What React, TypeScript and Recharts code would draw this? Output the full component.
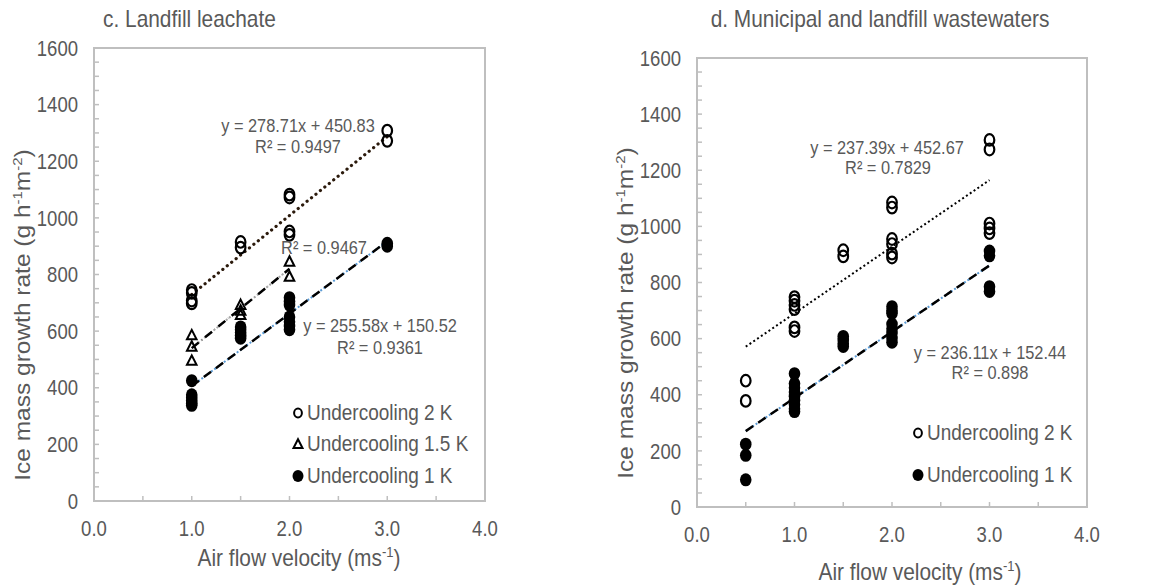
import React from 'react';
import {
  ScatterChart,
  Scatter,
  XAxis,
  YAxis,
  ReferenceArea,
  ReferenceDot,
  Legend,
  Customized,
} from 'recharts';

const FONT = '"Liberation Sans", Arial, Helvetica, sans-serif';
const GRAY = '#595959';
const FRAME = '#BFBFBF';
const SQ = 0.87; // horizontal squeeze of the original figure's lettering

// ---- axes ----
const xTicks = [0, 0.5, 1, 1.5, 2, 2.5, 3, 3.5, 4];
const yTicks = [
  0, 50, 100, 150, 200, 250, 300, 350, 400, 450, 500, 550, 600, 650, 700, 750, 800,
  850, 900, 950, 1000, 1050, 1100, 1150, 1200, 1250, 1300, 1350, 1400, 1450, 1500, 1550, 1600,
];

// ---- panel c: Landfill leachate ----
const c2K = [
  { x: 1, y: 745 }, { x: 1, y: 735 }, { x: 1, y: 708 }, { x: 1, y: 698 },
  { x: 1.5, y: 915 }, { x: 1.5, y: 895 },
  { x: 2, y: 1082 }, { x: 2, y: 1072 }, { x: 2, y: 952 }, { x: 2, y: 940 },
  { x: 3, y: 1308 }, { x: 3, y: 1272 },
];
const c15K = [
  { x: 1, y: 585 }, { x: 1, y: 545 }, { x: 1, y: 495 },
  { x: 1.5, y: 692 }, { x: 1.5, y: 672 }, { x: 1.5, y: 657 },
  { x: 2, y: 845 }, { x: 2, y: 792 },
];
const c1K = [
  { x: 1, y: 425 }, { x: 1, y: 375 }, { x: 1, y: 365 }, { x: 1, y: 355 }, { x: 1, y: 345 }, { x: 1, y: 338 },
  { x: 1.5, y: 615 }, { x: 1.5, y: 605 }, { x: 1.5, y: 595 }, { x: 1.5, y: 585 }, { x: 1.5, y: 575 },
  { x: 2, y: 718 }, { x: 2, y: 705 }, { x: 2, y: 692 }, { x: 2, y: 650 }, { x: 2, y: 633 }, { x: 2, y: 618 }, { x: 2, y: 605 },
  { x: 3, y: 910 }, { x: 3, y: 900 },
];
// fitted lines: slope, intercept, x-from, x-to
const cFit2K = [278.71, 450.83, 1, 3];
const cFit15K = [280, 260, 1, 2];
const cFit1K = [255.58, 150.52, 1, 3];

// ---- panel d: Municipal and landfill wastewaters ----
const d2K = [
  { x: 0.5, y: 450 }, { x: 0.5, y: 378 },
  { x: 1, y: 748 }, { x: 1, y: 735 }, { x: 1, y: 720 }, { x: 1, y: 705 }, { x: 1, y: 640 }, { x: 1, y: 627 },
  { x: 1.5, y: 915 }, { x: 1.5, y: 893 },
  { x: 2, y: 1085 }, { x: 2, y: 1067 }, { x: 2, y: 955 }, { x: 2, y: 937 }, { x: 2, y: 903 }, { x: 2, y: 889 },
  { x: 3, y: 1308 }, { x: 3, y: 1274 }, { x: 3, y: 1010 }, { x: 3, y: 993 }, { x: 3, y: 976 },
];
const d1K = [
  { x: 0.5, y: 224 }, { x: 0.5, y: 184 }, { x: 0.5, y: 97 },
  { x: 1, y: 475 }, { x: 1, y: 440 }, { x: 1, y: 425 }, { x: 1, y: 410 }, { x: 1, y: 395 }, { x: 1, y: 380 }, { x: 1, y: 365 }, { x: 1, y: 350 }, { x: 1, y: 340 },
  { x: 1.5, y: 608 }, { x: 1.5, y: 595 }, { x: 1.5, y: 582 }, { x: 1.5, y: 572 },
  { x: 2, y: 714 }, { x: 2, y: 700 }, { x: 2, y: 690 }, { x: 2, y: 652 }, { x: 2, y: 635 }, { x: 2, y: 620 }, { x: 2, y: 602 }, { x: 2, y: 587 },
  { x: 3, y: 912 }, { x: 3, y: 895 }, { x: 3, y: 785 }, { x: 3, y: 768 },
];
const dFit2K = [237.39, 452.67, 0.5, 3];
const dFit1K = [236.11, 152.44, 0.5, 3];

// text
const titleC = 'c. Landfill leachate';
const titleD = 'd. Municipal and landfill wastewaters';
const legendC = [
  { label: 'Undercooling 2 K', shape: 'open' },
  { label: 'Undercooling 1.5 K', shape: 'tri' },
  { label: 'Undercooling 1 K', shape: 'filled' },
];
const legendD = [
  { label: 'Undercooling 2 K', shape: 'open' },
  { label: 'Undercooling 1 K', shape: 'filled' },
];
const notesC = [
  { x: 2.087, y: 1328, text: 'y = 278.71x + 450.83' },
  { x: 2.087, y: 1254, text: 'R² = 0.9497' },
  { x: 2.353, y: 897, text: 'R² = 0.9467' },
  { x: 2.926, y: 622, text: 'y = 255.58x + 150.52' },
  { x: 2.926, y: 544, text: 'R² = 0.9361' },
];
const notesD = [
  { x: 1.949, y: 1283, text: 'y = 237.39x + 452.67' },
  { x: 1.959, y: 1212, text: 'R² = 0.7829' },
  { x: 3.005, y: 552, text: 'y = 236.11x + 152.44' },
  { x: 3.005, y: 481, text: 'R² = 0.898' },
];

const fitLine = (f: number[]) => [
  { x: f[2], y: f[0] * f[2] + f[1] },
  { x: f[3], y: f[0] * f[3] + f[1] },
];

// squeezed text helper
const SqText = ({ x, y, anchor = 'start', size, children }: any) => (
  <text
    transform={`translate(${x},${y}) scale(${SQ},1)`}
    x={0}
    y={0}
    dy="0.36em"
    textAnchor={anchor}
    fontSize={size}
    fontFamily={FONT}
    fill={GRAY}
  >
    {children}
  </text>
);

// ---- shapes ----
const OpenCircle = (p: any) => (
  <ellipse cx={p.cx} cy={p.cy} rx={4.8} ry={5.8} fill="none" stroke="#000" strokeWidth={2.2} />
);
const FilledCircle = (p: any) => (
  <ellipse cx={p.cx} cy={p.cy} rx={5.8} ry={6.5} fill="#000" stroke="none" />
);
const Triangle = (p: any) => (
  <path
    d={`M${p.cx},${p.cy - 5.5}L${p.cx + 4.8},${p.cy + 4}L${p.cx - 4.8},${p.cy + 4}Z`}
    fill="none"
    stroke="#000"
    strokeWidth={2}
    strokeLinejoin="miter"
  />
);
const NoShape = () => <g />;

const LegendMarker = ({ shape }: { shape: string }) => (
  <svg width={14} height={16} style={{ display: 'block' }}>
    {shape === 'open' && <ellipse cx={7} cy={8} rx={3.9} ry={4.4} fill="none" stroke="#000" strokeWidth={2} />}
    {shape === 'filled' && <ellipse cx={7} cy={8} rx={5.5} ry={6} fill="#000" />}
    {shape === 'tri' && <path d="M7,3.2L11.5,12L2.5,12Z" fill="none" stroke="#000" strokeWidth={2} />}
  </svg>
);

// ---- ticks ----
const YTick = (props: any) => {
  const { x, y, payload } = props;
  const v = payload.value;
  return (
    <g>
      <line x1={x} x2={x + 5} y1={y} y2={y} stroke={FRAME} strokeWidth={1.5} />
      {v % 200 === 0 && (
        <SqText x={x - 16} y={y} anchor="end" size={21.3}>
          {v}
        </SqText>
      )}
    </g>
  );
};
const XTick = (props: any) => {
  const { x, y, payload } = props;
  const v = payload.value;
  return (
    <g>
      <line x1={x} x2={x} y1={y} y2={y - 5} stroke={FRAME} strokeWidth={1.5} />
      {Number.isInteger(v) && (
        <SqText x={x} y={y + 27} anchor="middle" size={21.3}>
          {v.toFixed(1)}
        </SqText>
      )}
    </g>
  );
};

const NoteLabel = (props: any) => {
  const vb = props.viewBox || {};
  const cx = (vb.x || 0) + (vb.width || 0) / 2;
  const cy = (vb.y || 0) + (vb.height || 0) / 2;
  return (
    <SqText x={cx} y={cy} anchor="middle" size={18.8}>
      {props.text}
    </SqText>
  );
};

type PanelProps = {
  width: number;
  margin: { top: number; right: number; bottom: number; left: number };
  title: string;
  titleX: number;
  titleAnchor: 'start' | 'middle';
  yLabel: { x: number; y: number };
  xLabel: { x: number; y: number };
  legend: { label: string; shape: string }[];
  legendBox: { left: number; top: number; rowH: number };
  children: React.ReactNode;
  notes: { x: number; y: number; text: string }[];
};

const Texts = ({ title, titleX, titleAnchor, yLabel, xLabel }: any) => (
  <g>
    <SqText x={titleX} y={18} anchor={titleAnchor} size={24}>
      {title}
    </SqText>
    <text
      transform={`translate(${yLabel.x},${yLabel.y}) scale(${SQ},1) rotate(-90)`}
      textAnchor="middle"
      dy="0.36em"
      fontSize={24.5}
      fontFamily={FONT}
      fill={GRAY}
    >
      Ice mass growth rate (g h
      <tspan dy={-9} fontSize={15}>-1</tspan>
      <tspan dy={9}>m</tspan>
      <tspan dy={-9} fontSize={15}>-2</tspan>
      <tspan dy={9}>)</tspan>
    </text>
    <SqText x={xLabel.x} y={xLabel.y} anchor="middle" size={24}>
      Air flow velocity (ms
      <tspan dy={-9} fontSize={15}>-1</tspan>
      <tspan dy={9}>)</tspan>
    </SqText>
  </g>
);

const Panel = (p: PanelProps) => (
  <ScatterChart width={p.width} height={587} margin={p.margin}>
    <XAxis
      type="number"
      dataKey="x"
      domain={[0, 4]}
      ticks={xTicks}
      interval={0}
      tickSize={0}
      tickMargin={0}
      axisLine={false}
      tick={<XTick />}
      height={40}
      allowDataOverflow
    />
    <YAxis
      type="number"
      dataKey="y"
      domain={[0, 1600]}
      ticks={yTicks}
      interval={0}
      tickSize={0}
      tickMargin={0}
      axisLine={false}
      tick={<YTick />}
      width={60}
      allowDataOverflow
    />
    <ReferenceArea x1={0} x2={4} y1={0} y2={1600} fill="none" stroke={FRAME} strokeWidth={2} />
    {p.children}
    {p.notes.map((n) => (
      <ReferenceDot
        key={n.text}
        x={n.x}
        y={n.y}
        r={0}
        fill="none"
        stroke="none"
        label={{ content: (lp: any) => <NoteLabel {...lp} text={n.text} /> }}
      />
    ))}
    <Customized
      component={
        <Texts title={p.title} titleX={p.titleX} titleAnchor={p.titleAnchor} yLabel={p.yLabel} xLabel={p.xLabel} />
      }
    />
    <Legend
      layout="vertical"
      align="center"
      verticalAlign="middle"
      wrapperStyle={{ left: p.legendBox.left, top: p.legendBox.top, width: 220, height: 'auto' }}
      content={() => (
        <div style={{ fontFamily: FONT, fontSize: 21.8, color: GRAY }}>
          {p.legend.map((it) => (
            <div key={it.label} style={{ display: 'flex', alignItems: 'center', height: p.legendBox.rowH }}>
              <LegendMarker shape={it.shape} />
              <span
                style={{
                  marginLeft: 2,
                  whiteSpace: 'nowrap',
                  lineHeight: 1,
                  display: 'inline-block',
                  transform: `scaleX(${SQ})`,
                  transformOrigin: 'left center',
                }}
              >
                {it.label}
              </span>
            </div>
          ))}
        </div>
      )}
    />
  </ScatterChart>
);

const trend = (key: string, data: any[], stroke: string, width: number, dash: string, cap: 'round' | 'butt' = 'butt') => (
  <Scatter
    key={key}
    data={data}
    fill={stroke}
    shape={<NoShape />}
    line={{ stroke, strokeWidth: width, strokeDasharray: dash, strokeLinecap: cap }}
    isAnimationActive={false}
    legendType="none"
  />
);

export default function App() {
  return (
    <div style={{ position: 'absolute', left: 0, top: 0, width: 1159, height: 587, background: '#fff' }}>
      <div style={{ position: 'absolute', left: 0, top: 0 }}>
        <Panel
          width={580}
          margin={{ top: 48, right: 95, bottom: 46, left: 34 }}
          title={titleC}
          titleX={103}
          titleAnchor="start"
          yLabel={{ x: 22, y: 315 }}
          xLabel={{ x: 299, y: 557 }}
          legend={legendC}
          legendBox={{ left: 291, top: 397, rowH: 31.5 }}
          notes={notesC}
        >
          {trend('c2', fitLine(cFit2K), '#2b1a0c', 3.2, '0.1 5.6', 'round')}
          {trend('c15a', fitLine(cFit15K), '#A6A6A6', 2, '2 2')}
          {trend('c15b', fitLine(cFit15K), '#000', 2.5, '9 4 0.1 4')}
          {trend('c1a', fitLine(cFit1K), '#5B9BD5', 2, '2 2')}
          {trend('c1b', fitLine(cFit1K), '#000', 2.5, '9 6')}
          <Scatter name="Undercooling 2 K" data={c2K} shape={<OpenCircle />} isAnimationActive={false} />
          <Scatter name="Undercooling 1.5 K" data={c15K} shape={<Triangle />} isAnimationActive={false} />
          <Scatter name="Undercooling 1 K" data={c1K} shape={<FilledCircle />} isAnimationActive={false} />
        </Panel>
      </div>
      <div style={{ position: 'absolute', left: 580, top: 0 }}>
        <Panel
          width={579}
          margin={{ top: 58, right: 72, bottom: 40, left: 57 }}
          title={titleD}
          titleX={300}
          titleAnchor="middle"
          yLabel={{ x: 45, y: 313 }}
          xLabel={{ x: 340, y: 571 }}
          legend={legendD}
          legendBox={{ left: 331, top: 412, rowH: 42 }}
          notes={notesD}
        >
          {trend('d2', fitLine(dFit2K), '#000', 2, '2 2.6')}
          {trend('d1a', fitLine(dFit1K), '#5B9BD5', 2, '2 2')}
          {trend('d1b', fitLine(dFit1K), '#000', 2.5, '9 6')}
          <Scatter name="Undercooling 2 K" data={d2K} shape={<OpenCircle />} isAnimationActive={false} />
          <Scatter name="Undercooling 1 K" data={d1K} shape={<FilledCircle />} isAnimationActive={false} />
        </Panel>
      </div>
    </div>
  );
}
